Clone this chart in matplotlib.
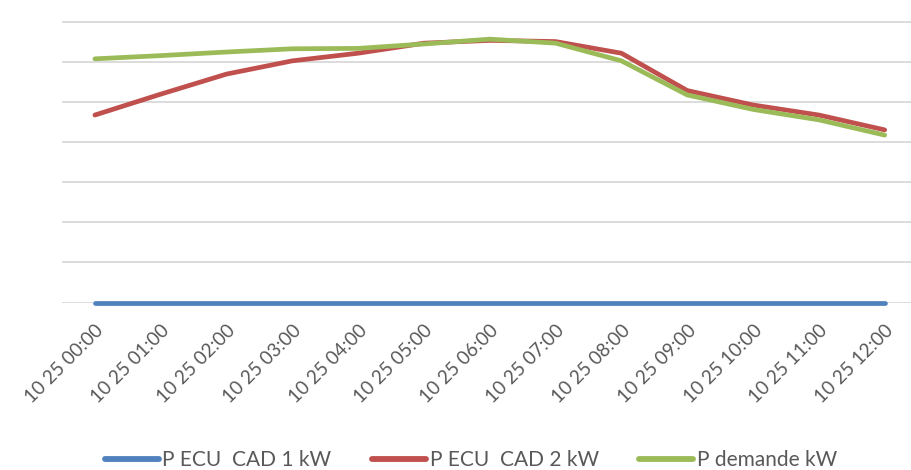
import numpy as np
import matplotlib
matplotlib.use('Agg')
from matplotlib import pyplot as plt

# hourly time labels (category axis)
hours = ['10 25 00:00', '10 25 01:00', '10 25 02:00', '10 25 03:00', '10 25 04:00',
         '10 25 05:00', '10 25 06:00', '10 25 07:00', '10 25 08:00', '10 25 09:00',
         '10 25 10:00', '10 25 11:00', '10 25 12:00']

# values (gridline step = 1)
p_cad1 = [0, 0, 0, 0, 0, 0, 0, 0, 0, 0, 0, 0, 0]
p_cad2 = [4.67, 5.19, 5.69, 6.02, 6.21, 6.46, 6.53, 6.50, 6.21, 5.28, 4.92, 4.67, 4.30]
p_demande = [6.07, 6.15, 6.24, 6.32, 6.33, 6.44, 6.56, 6.46, 6.02, 5.17, 4.81, 4.55, 4.17]

names = ['P ECU  CAD 1 kW', 'P ECU  CAD 2 kW', 'P demande kW']
colors = ['#4F81BD', '#C0504D', '#9BBB59']

plt.rcParams['font.family'] = ['Lato', 'DejaVu Sans']

fig = plt.figure(figsize=(9.11, 4.70), dpi=100)
ax = fig.add_axes([62/911, 167.5/470, 849/911, 281/470])

x = np.arange(len(hours))
for ys, name, c in zip([p_cad1, p_cad2, p_demande], names, colors):
    ax.plot(x, ys, color=c, lw=3.4, solid_capstyle='round', solid_joinstyle='round',
            label=name, clip_on=False, zorder=3)

ax.set_ylim(0, 7)
ax.set_xlim(-0.5, 12.4)
ax.set_yticks(np.arange(0, 8))
ax.yaxis.grid(True, color='#D9D9D9', lw=1.3)
ax.set_axisbelow(True)
ax.set_yticklabels([])
ax.tick_params(axis='y', length=0)
for s in ax.spines.values():
    s.set_visible(False)

ax.set_xticks(x)
ax.set_xticklabels(hours, rotation=45, ha='right', va='top', rotation_mode='anchor',
                   fontsize=13.6, color='#595959')
ax.tick_params(axis='x', length=0, pad=14)

leg = fig.legend(loc='center', bbox_to_anchor=(471/911, 10/470), ncol=3, frameon=False,
                 fontsize=15, handlelength=2.6, handletextpad=0.15, columnspacing=1.95)
for t in leg.get_texts():
    t.set_color('#595959')
for h in leg.get_lines():
    h.set_linewidth(4.2)
    h.set_solid_capstyle('round')

fig.savefig('out.png', dpi=100)
